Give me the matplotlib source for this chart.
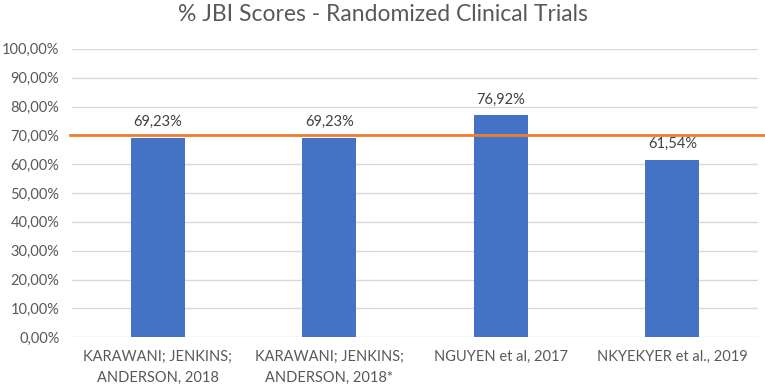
import matplotlib
matplotlib.use("Agg")
import matplotlib.pyplot as plt
from matplotlib.ticker import FuncFormatter, MultipleLocator

# data
studies = ['KARAWANI; JENKINS;\nANDERSON, 2018', 'KARAWANI; JENKINS;\nANDERSON, 2018*',
           'NGUYEN et al, 2017', 'NKYEKYER et al., 2019']
scores = [69.23, 69.23, 76.92, 61.54]
cutoff = 70.0

plt.rcParams['font.family'] = ['Lato', 'DejaVu Sans']

fig = plt.figure(figsize=(7.65, 3.88), dpi=100)
ax = fig.add_axes([0.094, 0.131, 0.897, 0.743])

x = list(range(len(studies)))
bars = ax.bar(x, scores, width=0.315, color='#4472C4', zorder=3)

def pct(v):
    return ('%.2f%%' % v).replace('.', ',')

for b, v in zip(bars, scores):
    ax.text(b.get_x() + b.get_width() / 2, v + 3.0, pct(v), ha='center', va='bottom',
            fontsize=10.5, color='#404040')

# 70% reference line
ax.axhline(cutoff, xmin=-0.003, xmax=1.01, color='#ED7D31', lw=2, clip_on=False, zorder=4)

ax.set_xlim(-0.5, len(studies) - 0.5)
ax.set_ylim(0, 100)
ax.yaxis.set_major_locator(MultipleLocator(10))
ax.yaxis.set_major_formatter(FuncFormatter(lambda v, p: pct(v)))
ax.yaxis.grid(True, color='#D9D9D9', lw=1)
ax.set_axisbelow(True)
for s in ax.spines.values():
    s.set_visible(False)
ax.tick_params(axis='both', length=0, labelsize=10.5, labelcolor='#595959')
ax.tick_params(axis='y', pad=9)
ax.tick_params(axis='x', pad=9)
ax.set_xticks(x)
ax.set_xticklabels(studies, linespacing=1.7)

fig.suptitle('% JBI Scores - Randomized Clinical Trials', x=0.5, y=0.99,
             fontsize=16.5, color='#595959')

fig.savefig('out.png', dpi=100)
